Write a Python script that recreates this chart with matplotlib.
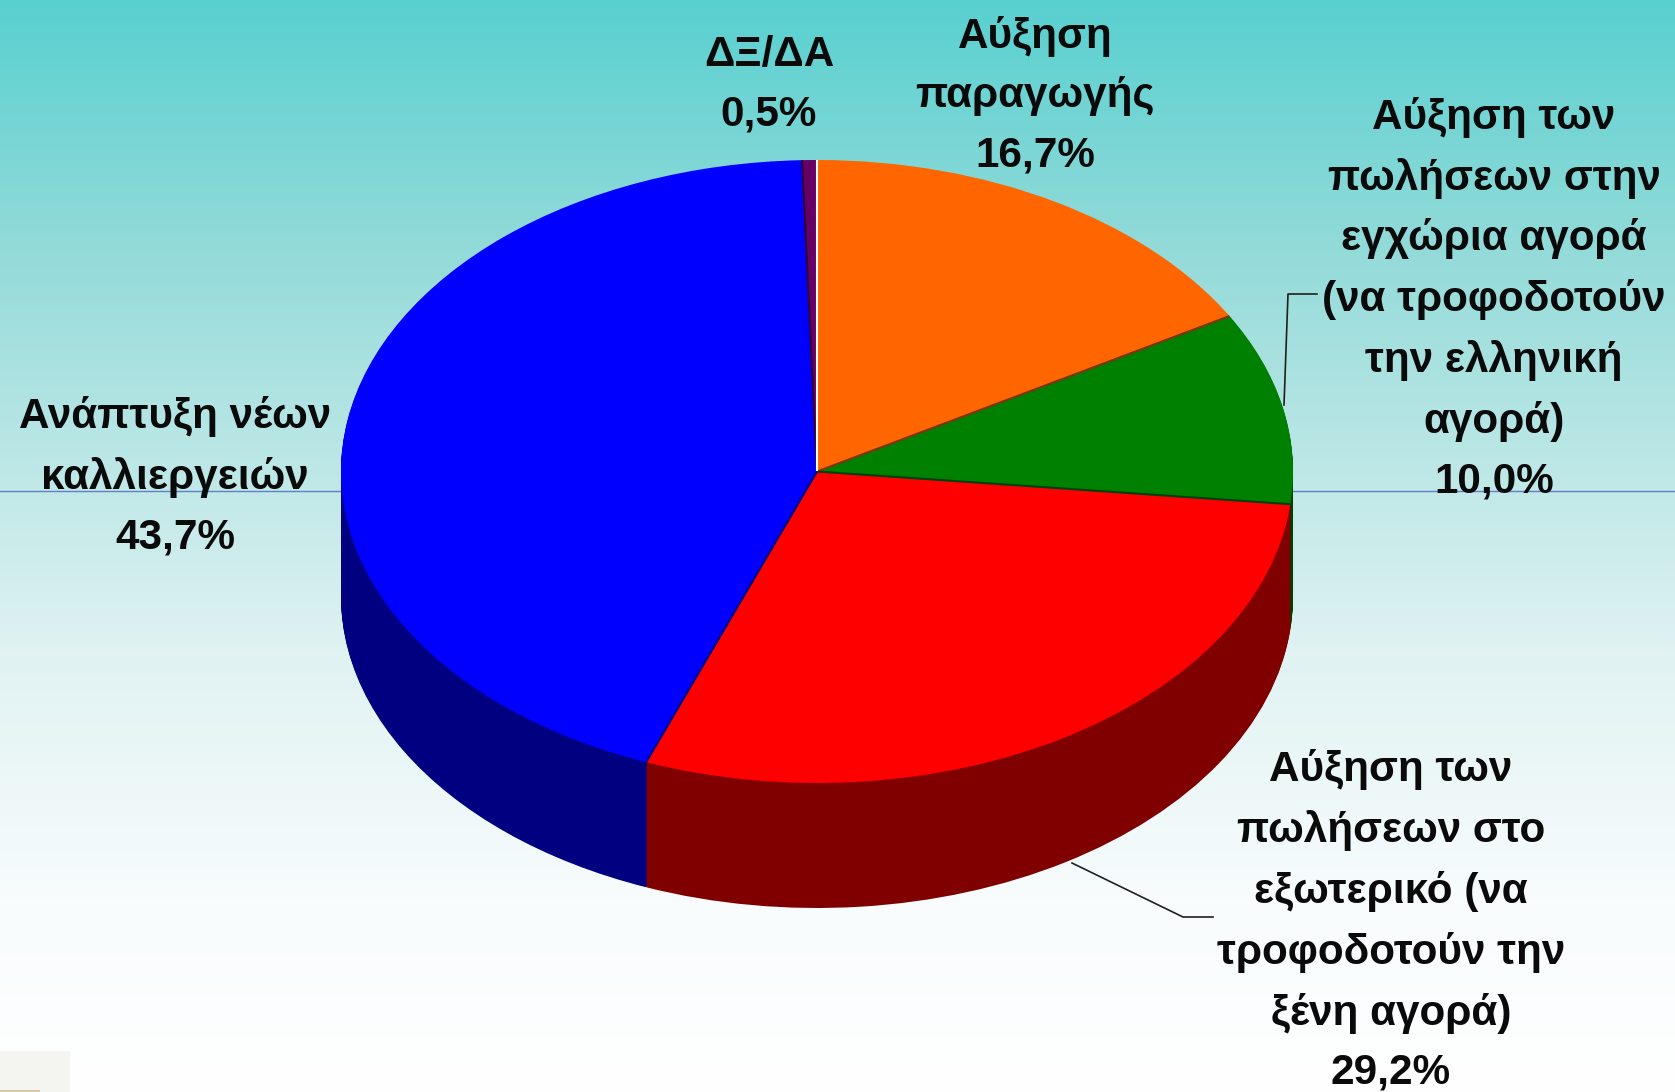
import numpy as np
import matplotlib
matplotlib.use('Agg')
import matplotlib.pyplot as plt
from matplotlib.patches import Rectangle

# Data
# --------------
categories = ['Αύξηση\nπαραγωγής',
              'Αύξηση των\nπωλήσεων στην\nεγχώρια αγορά\n(να τροφοδοτούν\nτην ελληνική\nαγορά)',
              'Αύξηση των\nπωλήσεων στο\nεξωτερικό (να\nτροφοδοτούν την\nξένη αγορά)',
              'Ανάπτυξη νέων\nκαλλιεργειών',
              'ΔΞ/ΔΑ']
values = [16.7, 10.0, 29.2, 43.7, 0.5]

top_colors = ['#FF6600', '#008000', '#FF0000', '#0000FF', '#660066']
side_colors = ['#803300', '#004000', '#800000', '#000080', '#330033']
# line on the clockwise edge of each slice
seam_colors = ['#803300', '#004000', '#000080', '#330033', '#FFFFFF']

# Layout, in pixels of the 1675x1092 picture
W, H = 1675, 1092
cx, cy = 817, 471.5
rx, ry = 476, 311.5
depth = 125
label_pos = [(1035, 96), (1494, 299), (1391, 921), (175, 477), (769, 85)]

plt.rcParams['font.family'] = ['Liberation Sans', 'DejaVu Sans']

fig = plt.figure(figsize=(W/100, H/100), dpi=100)

# Background
# --------------
bg = fig.add_axes([0, 0, 1, 1])
stops = [0, 250, 650, 900, H]
yy = np.arange(H)
grad = np.stack([np.interp(yy, stops, [88, 147, 224, 248, 255]),
                 np.interp(yy, stops, [208, 219, 242, 252, 255]),
                 np.interp(yy, stops, [208, 217, 242, 253, 255])], axis=1)[:, None, :] / 255
bg.imshow(grad, aspect='auto', extent=(0, W, H, 0))
bg.add_patch(Rectangle((0, 1051), 70, 41, color='#F4F4F0', lw=0))
bg.add_patch(Rectangle((0, 1090), 40, 2, color='#D8C8A0', lw=0))
bg.plot([0, W], [491, 491], color='#6080C8', lw=1)
bg.set_xlim(0, W)
bg.set_ylim(H, 0)
bg.axis('off')

# Pie, one unit of radius stretched to the ellipse by the axis limits
# --------------
ax = fig.add_axes([0, 0, 1, 1])
ax.patch.set_alpha(0)
for d in np.arange(depth, 0, -1.0):
    ax.pie(values, colors=side_colors, startangle=90, counterclock=False,
           center=(0, -d/ry), wedgeprops={'linewidth': 0})
wedges, _ = ax.pie(values, colors=top_colors, startangle=90, counterclock=False,
                   wedgeprops={'linewidth': 0})
for w, c in zip(wedges, seam_colors):
    a = np.deg2rad(w.theta1)
    ax.plot([0, np.cos(a)], [0, np.sin(a)], color=c, lw=1.5, solid_capstyle='butt')
ax.set_aspect('auto')
ax.set_xlim(-cx/rx, (W-cx)/rx)
ax.set_ylim((cy-H)/ry, cy/ry)
ax.axis('off')

# Labels and leader lines
# --------------
over = fig.add_axes([0, 0, 1, 1])
over.patch.set_alpha(0)
over.set_xlim(0, W)
over.set_ylim(H, 0)
over.axis('off')
for name, v, (x, y) in zip(categories, values, label_pos):
    txt = name + '\n' + f'{v:.1f}%'.replace('.', ',')
    over.text(x, y, txt, ha='center', va='center', fontsize=30.4, fontweight='bold',
              color='#0A0A0A', linespacing=1.62)
over.plot([1317, 1288, 1287, 1284], [294, 294, 322, 405], color='#202020', lw=1.2)
over.plot([1072, 1183, 1213], [863, 917, 917], color='#202020', lw=1.2)

plt.savefig('out.png', dpi=100)
